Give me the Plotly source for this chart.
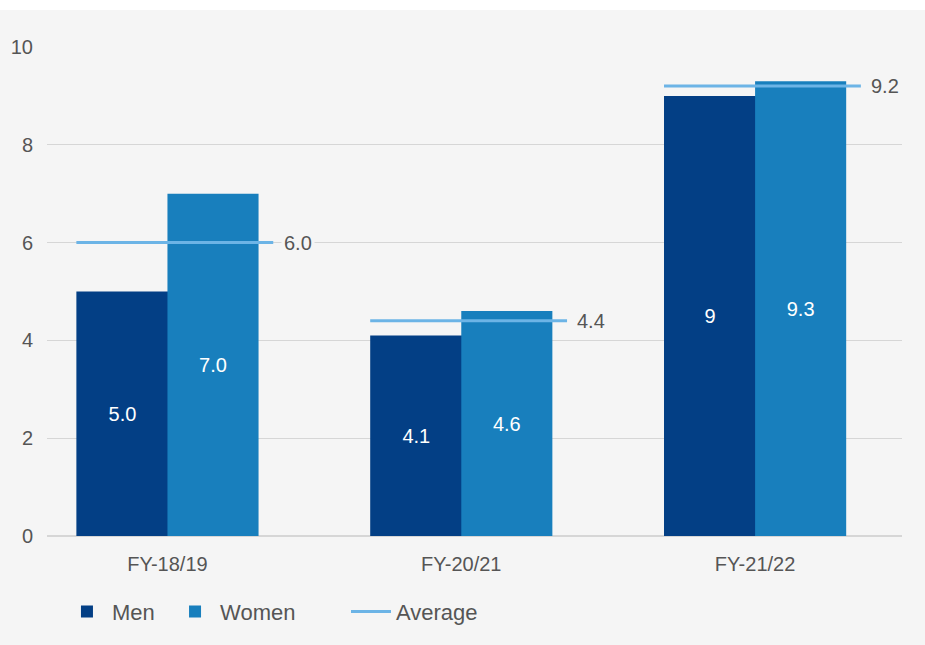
import plotly.graph_objects as go

categories = ["FY-18/19", "FY-20/21", "FY-21/22"]
men = [5.0, 4.1, 9]
women = [7.0, 4.6, 9.3]
average = [6.0, 4.4, 9.2]
men_labels = ["5.0", "4.1", "9"]
women_labels = ["7.0", "4.6", "9.3"]
avg_labels = ["6.0", "4.4", "9.2"]

MEN = "#033f85"
WOMEN = "#187fbd"
AVG = "#6cb4e6"
BG = "#f5f5f5"
TXT = "#555555"
FONT = "Liberation Sans, Arial, sans-serif"

pos = list(range(len(categories)))
half = 0.31

fig = go.Figure()
# men bar slightly wider so it tucks under the women bar (no seam)
fig.add_trace(go.Bar(
    x=pos, y=men, name="Men", marker_color=MEN, marker_line_width=0,
    offset=-half, width=half + 0.004, legend="legend",
    text=men_labels, textposition="inside", insidetextanchor="middle",
    textfont=dict(color="white", size=20, family=FONT),
))
fig.add_trace(go.Bar(
    x=pos, y=women, name="Women", marker_color=WOMEN, marker_line_width=0,
    offset=0, width=half, legend="legend2",
    text=women_labels, textposition="inside", insidetextanchor="middle",
    textfont=dict(color="white", size=20, family=FONT),
))

# average segments spanning each bar pair
ax, ay = [], []
for p, a in zip(pos, average):
    ax += [p - half, p + half + 0.05, None]
    ay += [a, a, None]
fig.add_trace(go.Scatter(x=ax, y=ay, mode="lines", name="Average", legend="legend3",
                         line=dict(color=AVG, width=3)))

for p, a, t in zip(pos, average, avg_labels):
    fig.add_annotation(x=p + half + 0.075, y=a, text=t, showarrow=False,
                       xanchor="left", yanchor="middle", bgcolor=BG,
                       font=dict(size=20, color=TXT, family=FONT), borderpad=2)

fig.add_shape(type="rect", xref="paper", yref="paper", x0=-0.1, x1=1.1,
              y0=1.0757, y1=1.2, fillcolor="white", line_width=0, layer="above")

leg = dict(orientation="h", y=-0.155, xanchor="left", yanchor="middle",
           font=dict(size=22, color=TXT), bgcolor="rgba(0,0,0,0)", itemwidth=40)

fig.update_layout(
    width=925, height=645,
    margin=dict(l=47, r=23, t=47, b=109),
    paper_bgcolor=BG, plot_bgcolor=BG,
    barmode="overlay",
    font=dict(family=FONT, size=20, color=TXT),
    showlegend=True,
    legend=dict(leg, x=0.0175),
    legend2=dict(leg, x=0.1439),
    legend3=dict(leg, x=0.3497),
    xaxis=dict(range=[-0.41, 2.5], tickvals=pos, ticktext=categories,
               showgrid=False, zeroline=False, showline=False,
               ticklabelstandoff=14, tickfont=dict(size=20, color=TXT)),
    yaxis=dict(range=[0, 10], tickvals=[0, 2, 4, 6, 8, 10],
               showgrid=True, gridcolor="#d6d6d6", gridwidth=1,
               zeroline=True, zerolinecolor="#d6d6d6", zerolinewidth=1.5,
               ticklabelstandoff=13, tickfont=dict(size=20, color=TXT)),
)

fig.write_html("out.html", config={"displayModeBar": False},
               post_script="document.body.style.margin='0';")
